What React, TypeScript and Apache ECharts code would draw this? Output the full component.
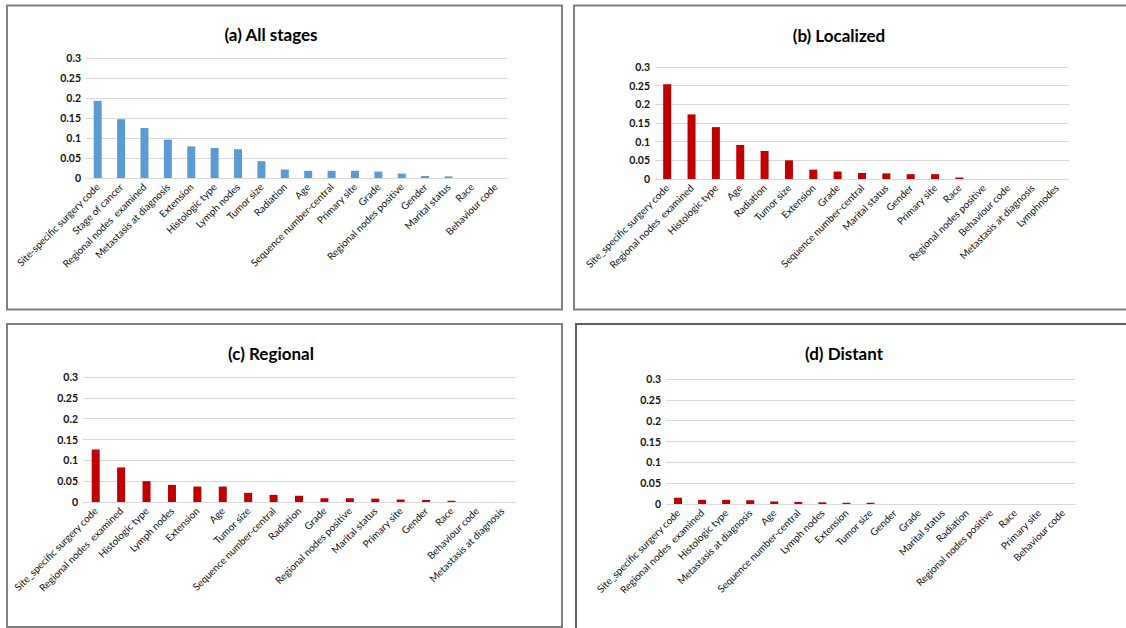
import React, { useEffect, useRef } from "react";
import * as echarts from "echarts";

const titles = ["(a) All stages", "(b) Localized", "(c) Regional", "(d) Distant"];

const catsA = ["Site-specific surgery code", "Stage of cancer", "Regional nodes  examined", "Metastasis at diagnosis", "Extension", "Histologic type", "Lymph nodes", "Tumor size", "Radiation", "Age", "Sequence number-central", "Primary site", "Grade", "Regional nodes positive", "Gender", "Marital status", "Race", "Behaviour code"];
const valsA = [0.193, 0.147, 0.125, 0.096, 0.079, 0.075, 0.072, 0.042, 0.021, 0.018, 0.018, 0.018, 0.016, 0.011, 0.005, 0.004, 0, 0];

const catsB = ["Site_specific surgery code", "Regional nodes  examined", "Histologic type", "Age", "Radiation", "Tumor size", "Extension", "Grade", "Sequence number-central", "Marital status", "Gender", "Primary site", "Race", "Regional nodes positive", "Behaviour code", "Metastasis at diagnosis", "Lymphnodes"];
const valsB = [0.254, 0.173, 0.139, 0.091, 0.075, 0.05, 0.025, 0.02, 0.016, 0.015, 0.013, 0.013, 0.004, 0, 0, 0, 0];

const catsC = ["Site_specific surgery code", "Regional nodes  examined", "Histologic type", "Lymph nodes", "Extension", "Age", "Tumor size", "Sequence number-central", "Radiation", "Grade", "Regional nodes positive", "Marital status", "Primary site", "Gender", "Race", "Behaviour code", "Metastasis at diagnosis"];
const valsC = [0.126, 0.083, 0.05, 0.041, 0.037, 0.037, 0.022, 0.017, 0.015, 0.009, 0.009, 0.008, 0.006, 0.005, 0.003, 0, 0];

const catsD = ["Site_specific surgery code", "Regional nodes  examined", "Histologic type", "Metastasis at diagnosis", "Age", "Sequence number-central", "Lymph nodes", "Extension", "Tumor size", "Gender", "Grade", "Marital status", "Radiation", "Regional nodes positive", "Race", "Primary site", "Behaviour code"];
const valsD = [0.015, 0.01, 0.01, 0.009, 0.006, 0.005, 0.004, 0.003, 0.003, 0, 0, 0, 0, 0, 0, 0, 0];

const yTicks = { min: 0, max: 0.3, interval: 0.05 };

const FONT = "Lato, 'Open Sans', sans-serif";
const LABEL_FONT = "'Liberation Sans Narrow', Lato, sans-serif";

export default function App() {
  const ref = useRef<HTMLDivElement>(null);
  useEffect(() => {
    if (!ref.current) return;
    const chart = echarts.init(ref.current, undefined, { renderer: "svg" });
    const panels = [
      { cats: catsA, vals: valsA, color: "#5b9bd5", grid: { left: 86, top: 58, width: 421, height: 120 }, title: { x: 266, y: 21 } },
      { cats: catsB, vals: valsB, color: "#c00000", grid: { left: 655, top: 67, width: 414, height: 112 }, title: { x: 834, y: 22 } },
      { cats: catsC, vals: valsC, color: "#c00000", grid: { left: 83, top: 377, width: 432, height: 125 }, title: { x: 266, y: 340 } },
      { cats: catsD, vals: valsD, color: "#c00000", grid: { left: 666, top: 379, width: 409, height: 125 }, title: { x: 839, y: 340 } },
    ];
    const option: any = {
      animation: false,
      backgroundColor: "#ffffff",
      title: panels.map((p, i) => ({
        text: titles[i],
        left: p.title.x,
        top: p.title.y,
        textAlign: "center",
        textStyle: { fontFamily: FONT, fontSize: 17, fontWeight: "bold", color: "#000" },
      })),
      grid: panels.map((p) => ({ ...p.grid, containLabel: false })),
      xAxis: panels.map((p, i) => ({
        type: "category",
        gridIndex: i,
        data: p.cats,
        axisLine: { show: true, lineStyle: { color: "#d9d9d9", width: 1 } },
        axisTick: { show: false },
        axisLabel: {
          interval: 0,
          rotate: 45,
          margin: 7,
          fontSize: 10,
          fontFamily: LABEL_FONT,
          color: "#111",
        },
      })),
      yAxis: panels.map((p, i) => ({
        type: "value",
        gridIndex: i,
        ...yTicks,
        axisLine: { show: false },
        axisTick: { show: false },
        splitLine: { show: true, lineStyle: { color: "#d9d9d9", width: 1 } },
        axisLabel: { fontSize: 10.5, fontFamily: FONT, fontWeight: "bold", color: "#111", margin: 5 },
      })),
      series: panels.map((p, i) => ({
        type: "bar",
        xAxisIndex: i,
        yAxisIndex: i,
        data: p.vals,
        barWidth: 8,
        itemStyle: { color: p.color },
      })),
      graphic: [
        { type: "rect", shape: { x: 7, y: 5.5, width: 555, height: 304 }, style: { fill: "none", stroke: "#808080", lineWidth: 2 }, silent: true },
        { type: "rect", shape: { x: 574, y: 5.5, width: 570, height: 304 }, style: { fill: "none", stroke: "#808080", lineWidth: 2 }, silent: true },
        { type: "rect", shape: { x: 7, y: 324, width: 555, height: 303 }, style: { fill: "none", stroke: "#808080", lineWidth: 2 }, silent: true },
        { type: "rect", shape: { x: 576, y: 324, width: 570, height: 320 }, style: { fill: "none", stroke: "#606060", lineWidth: 2 }, silent: true },
      ],
    };
    chart.setOption(option);
    return () => chart.dispose();
  }, []);
  return (
    <div style={{ position: "absolute", left: 0, top: 0, width: 1126, height: 628, background: "#fff" }}>
      <div ref={ref} style={{ width: 1126, height: 628 }} />
    </div>
  );
}
